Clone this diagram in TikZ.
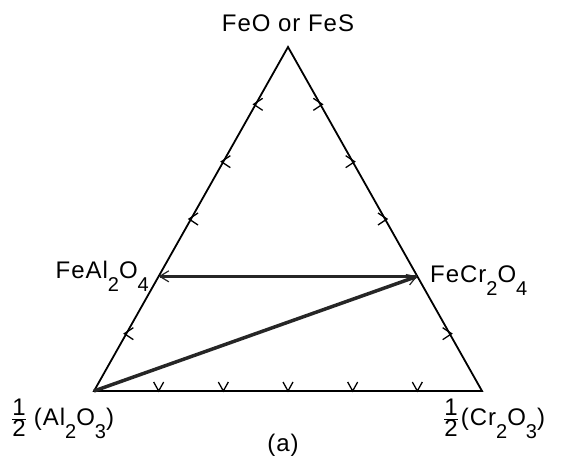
\documentclass[tikz,border=0pt]{standalone}
\usepackage{fontspec}
\setmainfont{Liberation Sans}[LetterSpace=4]
\usetikzlibrary{arrows.meta,calc}
\newcommand{\chemsub}[1]{\raisebox{-13pt}{\fontsize{20}{20}\selectfont #1}}
\newcommand{\half}{$\frac{\mbox{1}}{\mbox{2}}$}
\begin{document}
\begin{tikzpicture}[x=1pt,y=1pt,font=\fontsize{24}{28}\selectfont,
          side/.style={line width=1.8pt},
          tick/.style={line width=1.3pt},
          heavy/.style={line width=3.5pt, black!85, -{Straight Barb[length=9pt,width=11pt,line width=1.2pt]}},
          label/.style={inner sep=0pt}]
        \useasboundingbox (0,0) rectangle (562,466);
        \coordinate (top) at (288,419);
        \coordinate (al) at (94,75);
        \coordinate (cr) at (482,75);
        \coordinate (feal) at ($(al)!1/3!(top)$);
        \coordinate (fecr) at ($(cr)!1/3!(top)$);
        \draw[side] (al) -- (top) -- (cr) -- cycle;
        \foreach \k in {1,3,4,5} {
          \draw[tick] ($(al)!\k/6!(top)$) ++(7,6) -- ++(-9,-6) -- ++(9,-6);
          \draw[tick] ($(cr)!\k/6!(top)$) ++(-7,6) -- ++(9,-6) -- ++(-9,-6);
        }
        \foreach \k in {1,...,5}
          \draw[tick] ($(al)!\k/6!(cr)$) ++(-5,9) -- ++(5,-9) -- ++(5,9);
        \draw[heavy] (fecr) -- (feal);
        \draw[heavy] (al) -- (fecr);
        \node[label, anchor=base] (feo) at (288,434) {FeO or FeS};
        \node[label, anchor=base east] (fealtext) at (149,187) {FeAl\chemsub{2}O\chemsub{4}};
        \node[label, anchor=base west] (fecrtext) at (430,183) {FeCr\chemsub{2}O\chemsub{4}};
        \node[label, anchor=base west] (altext) at (11,41) {\half\hspace{7pt}(Al\chemsub{2}O\chemsub{3})};
        \node[label, anchor=base west] (crtext) at (443,41) {\half\hspace{2pt}(Cr\chemsub{2}O\chemsub{3})};
        \node[label, anchor=base] (caption) at (283,15) {(a)};
      \end{tikzpicture}
\end{document}
